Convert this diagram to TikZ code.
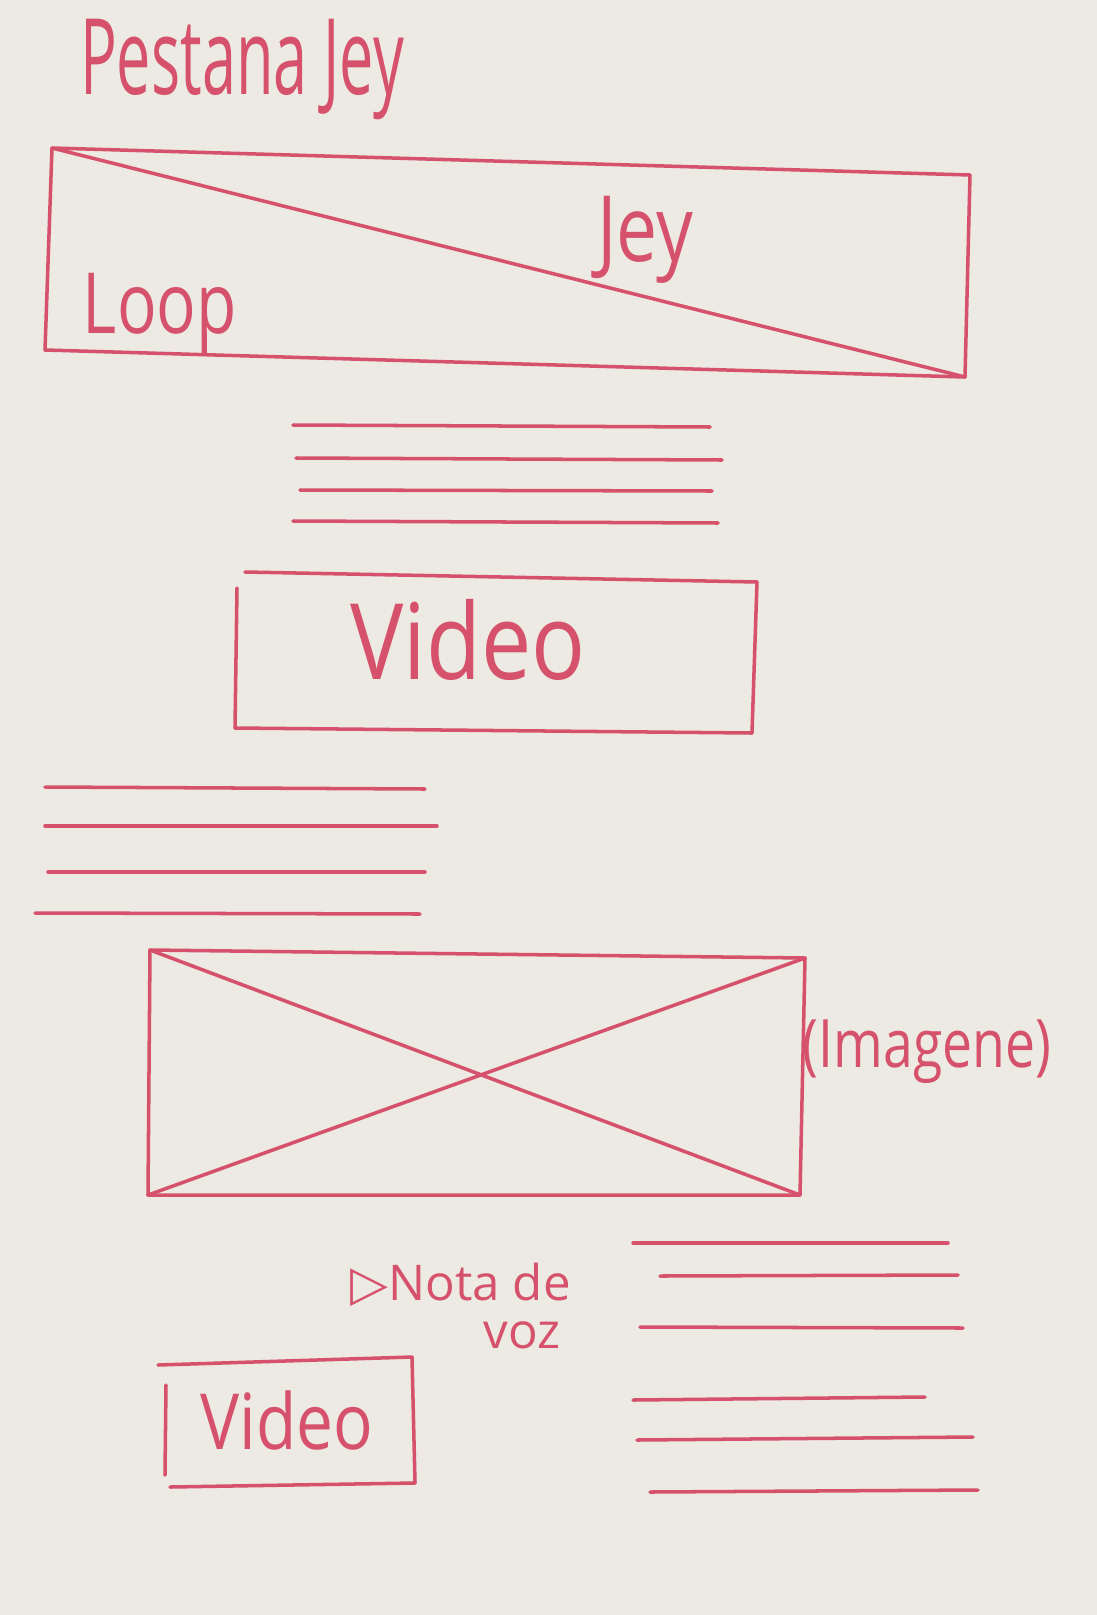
\documentclass[tikz,border=0pt]{standalone}
\usepackage{fontspec}
\setmainfont{Open Sans}
\newfontfamily\symfont{DejaVu Sans}
\definecolor{pen}{RGB}{214,82,108}
\definecolor{paper}{RGB}{236,234,226}
\begin{document}
\begin{tikzpicture}[
		x = 0.01 cm, y = -0.01 cm,
		sketch/.style = {draw = pen, line width = 1 pt, line cap = round, line join = round},
		hand/.style = {text = pen, inner sep = 0 pt, font = \fontsize{#1}{#1}\selectfont},
		hand/.default = 28
	]
		\fill[paper] (0,0) rectangle (1097,1615);
		\useasboundingbox (0,0) rectangle (1097,1615);

		% title
		\node[hand = 30, xscale = 0.58] (title) at (242,70) {Pestana Jey};

		% banner
		\coordinate (banTL) at (52,148);
		\coordinate (banTR) at (970,175);
		\coordinate (banBR) at (965,377);
		\coordinate (banBL) at (45,350);
		\draw[sketch] (banTL) -- (banTR) -- (banBR) -- (banBL) -- cycle;
		\draw[sketch] (banTL) -- (banBR);
		\node[hand = 26, xscale = 0.8] (jey) at (645,240) {Jey};
		\node[hand = 24, xscale = 0.78] (loop) at (160,314) {Loop};

		% text block 1
		\draw[sketch] (293,425) -- (710,427);
		\draw[sketch] (296,458) -- (722,460);
		\draw[sketch] (300,490) -- (712,491);
		\draw[sketch] (293,521) -- (718,523);

		% video
		\coordinate (vidTL) at (245,572);
		\coordinate (vidTR) at (757,582);
		\coordinate (vidBR) at (752,733);
		\coordinate (vidBL) at (235,728);
		\draw[sketch] (vidTL) -- (vidTR);
		\draw[sketch] (vidTR) -- (vidBR);
		\draw[sketch] (vidBL) -- (vidBR);
		\draw[sketch] (237,588) -- (vidBL);
		\node[hand = 30, xscale = 0.85] (video) at (468,640) {Video};

		% text block 2
		\draw[sketch] (45,787) -- (425,789);
		\draw[sketch] (45,826) -- (437,826);
		\draw[sketch] (48,872) -- (425,872);
		\draw[sketch] (35,913) -- (420,914);

		% image
		\coordinate (imgTL) at (150,950);
		\coordinate (imgTR) at (805,958);
		\coordinate (imgBR) at (800,1195);
		\coordinate (imgBL) at (148,1195);
		\draw[sketch] (imgTL) -- (imgTR) -- (imgBR) -- (imgBL) -- cycle;
		\draw[sketch] (imgTL) -- (imgBR);
		\draw[sketch] (imgBL) -- (imgTR);
		\node[hand = 19, xscale = 0.8] (imagene) at (927,1052) {(Imagene)};

		% voice note
		\node[hand = 14, anchor = base west] (nota) at (350,1300) {{\symfont ▷}Nota de};
		\node[hand = 14, anchor = base] (voz) at (522,1348) {voz};

		% text block 3
		\draw[sketch] (633,1243) -- (948,1243);
		\draw[sketch] (660,1276) -- (958,1275);
		\draw[sketch] (640,1327) -- (963,1328);
		\draw[sketch] (633,1400) -- (925,1397);
		\draw[sketch] (637,1440) -- (973,1437);
		\draw[sketch] (650,1492) -- (978,1490);

		% small video
		\coordinate (svTL) at (158,1365);
		\coordinate (svTR) at (412,1357);
		\coordinate (svBR) at (415,1483);
		\coordinate (svBL) at (170,1487);
		\draw[sketch] (svTL) -- (svTR);
		\draw[sketch] (svTR) -- (svBR);
		\draw[sketch] (svBL) -- (svBR);
		\draw[sketch] (166,1385) -- (165,1475);
		\node[hand = 22, xscale = 0.85] (smallvideo) at (287,1420) {Video};
	\end{tikzpicture}
\end{document}
